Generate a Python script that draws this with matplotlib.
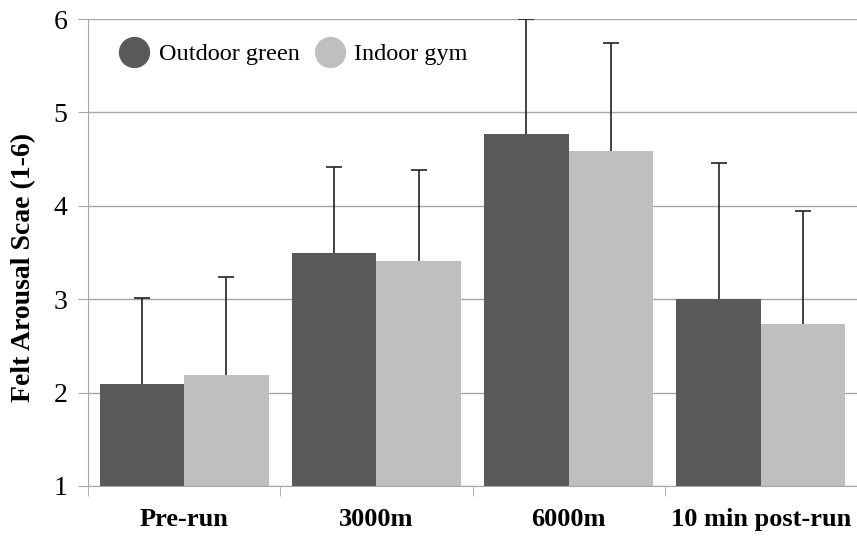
import matplotlib
matplotlib.use('Agg')
import matplotlib.pyplot as plt
from matplotlib.lines import Line2D
import numpy as np

plt.rcParams['font.family'] = ['Liberation Serif', 'DejaVu Serif']

# Data
categories = ['Pre-run', '3000m', '6000m', '10 min post-run']
outdoor = [2.09, 3.49, 4.77, 3.00]
indoor = [2.19, 3.41, 4.59, 2.73]
outdoor_err = [0.92, 0.93, 1.23, 1.46]
indoor_err = [1.05, 0.97, 1.15, 1.21]

dark = '#595959'
light = '#bfbfbf'
grid_c = '#a6a6a6'

fig = plt.figure(figsize=(8.57, 5.37), dpi=100)
ax = fig.add_axes([0.1027, 0.095, 0.8973, 0.8696])

x = np.arange(len(categories))
w = 0.44

ax.bar(x - w / 2, np.array(outdoor) - 1, w, bottom=1, color=dark, zorder=2)
ax.bar(x + w / 2, np.array(indoor) - 1, w, bottom=1, color=light, zorder=2)
for xs, vals, errs in [(x - w / 2, outdoor, outdoor_err), (x + w / 2, indoor, indoor_err)]:
    eb = ax.errorbar(xs, vals, yerr=[np.zeros(4), errs], fmt='none',
                     ecolor='#222222', elinewidth=1.2, capsize=6, capthick=1.2, zorder=3)
    eb[1][0].set_visible(False)  # hide lower caps

ax.set_ylim(1, 6)
ax.set_xlim(-0.5, 3.5)
ax.set_yticks([1, 2, 3, 4, 5, 6])
ax.yaxis.grid(True, color=grid_c, linewidth=1, zorder=0)
ax.set_axisbelow(True)

ax.set_xticks(x)
ax.set_xticklabels(categories, fontsize=19, fontweight='bold')
ax.tick_params(axis='x', length=0, pad=16)
ax.set_xticks(np.arange(-0.5, 3.6, 1), minor=True)
ax.tick_params(axis='x', which='minor', length=7, color=grid_c, direction='out')
ax.tick_params(axis='y', labelsize=20, length=7, color=grid_c, pad=8)

for s in ['top', 'right']:
    ax.spines[s].set_visible(False)
ax.spines['left'].set_color(grid_c)
ax.spines['bottom'].set_color(grid_c)

ax.set_ylabel('Felt Arousal Scae (1-6)', fontsize=20, fontweight='bold')
ax.yaxis.set_label_coords(-0.068, 0.467)

handles = [Line2D([], [], marker='o', linestyle='none', markersize=21.5, color=dark),
           Line2D([], [], marker='o', linestyle='none', markersize=21.5, color=light)]
ax.legend(handles, ['Outdoor green', 'Indoor gym'], loc='upper left', ncol=2,
          frameon=False, fontsize=17.5, handletextpad=0.0, columnspacing=0.25,
          bbox_to_anchor=(0.0, 0.995))

fig.savefig('out.png', dpi=100)
